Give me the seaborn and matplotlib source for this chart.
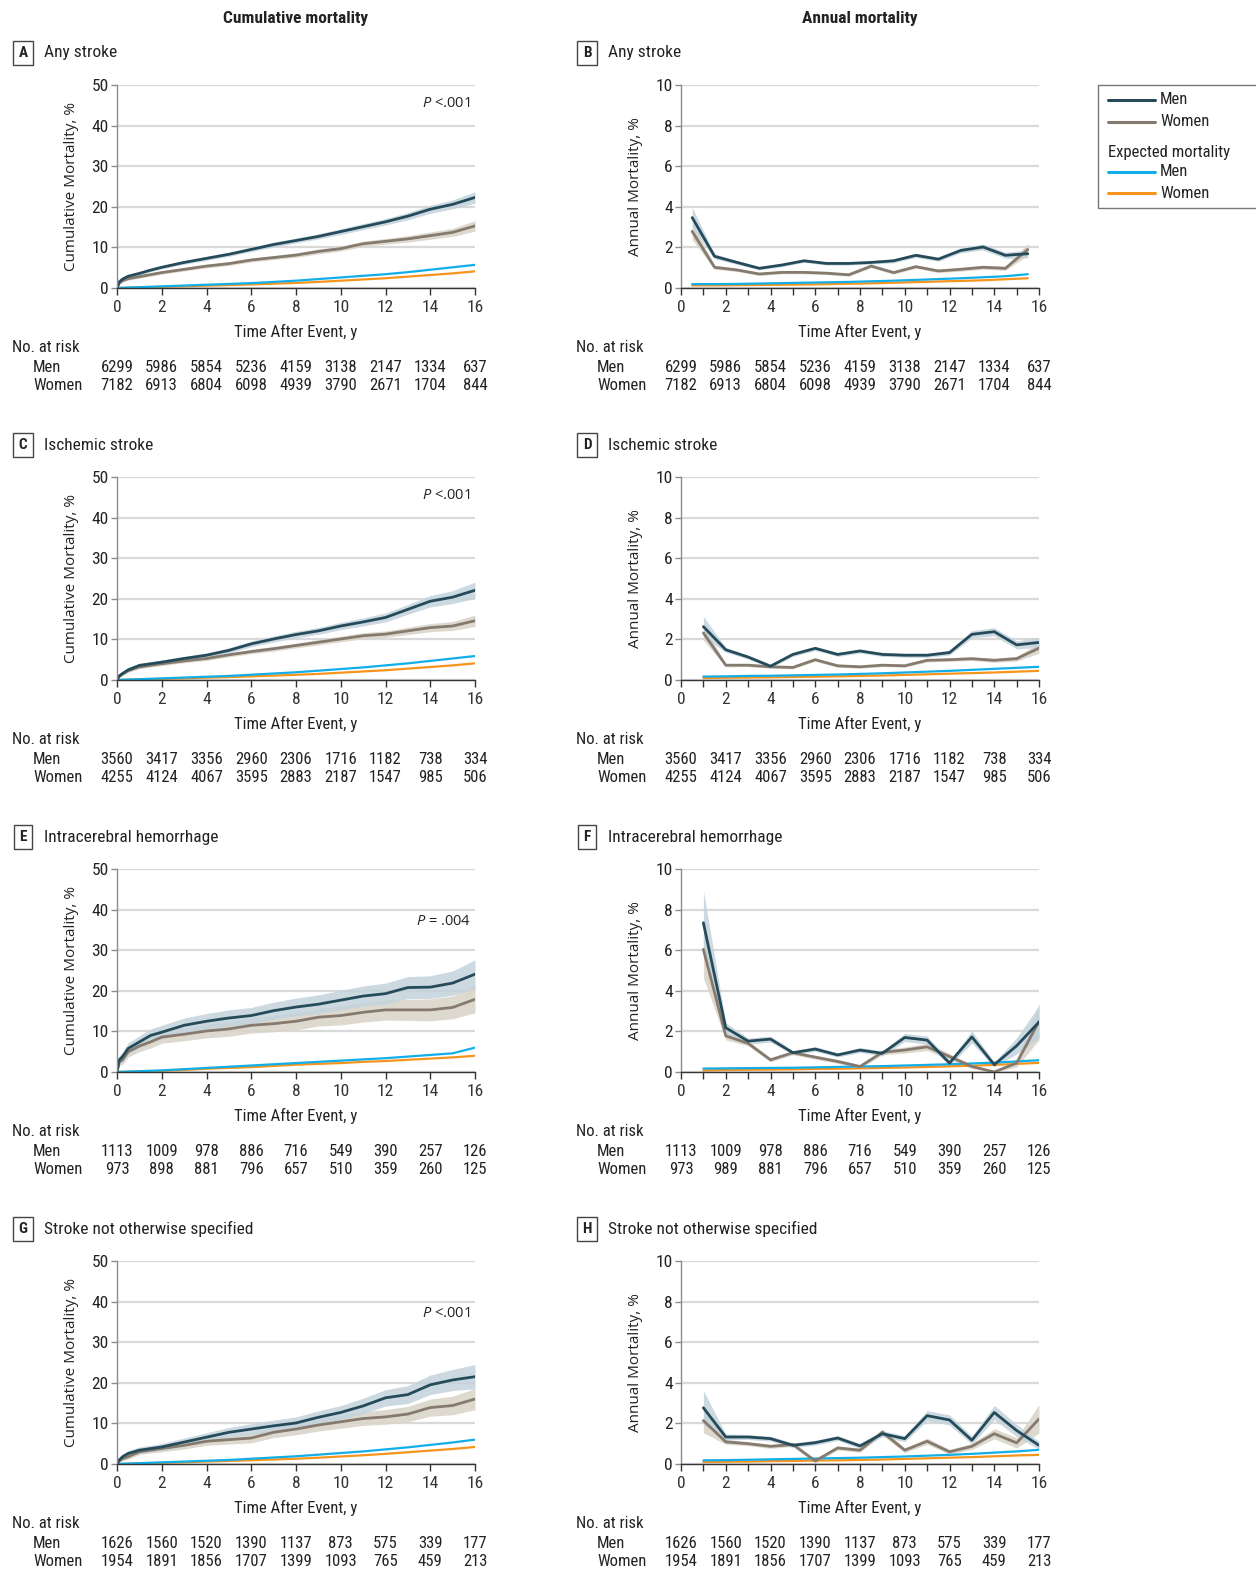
import numpy as np
import matplotlib
matplotlib.use('Agg')
import matplotlib.pyplot as plt
import matplotlib.transforms as mtransforms
from matplotlib import font_manager
from matplotlib.lines import Line2D
from matplotlib.patches import Rectangle
from matplotlib.ticker import MultipleLocator
import seaborn as sns

sns.set_theme(style='white')
installed = {f.name for f in font_manager.fontManager.ttflist}
main_font = next((f for f in ['Liberation Sans Narrow', 'Roboto Condensed', 'Open Sans Condensed',
                              'Liberation Sans'] if f in installed), 'DejaVu Sans')
plt.rcParams['font.family'] = [main_font, 'DejaVu Sans']
plt.rcParams['mathtext.fontset'] = 'custom'
plt.rcParams['mathtext.it'] = 'Open Sans:italic'
plt.rcParams['mathtext.rm'] = 'Open Sans'

# ---- data -------------------------------------------------------------
# cumulative mortality, % (time grid in years)
T_CUM = [0, 0.1, 0.25, 0.5, 1, 1.5, 2, 3, 4, 5, 6, 7, 8, 9, 10, 11, 12, 13, 14, 15, 16]

A_MEN = [0, 1.5, 2.2, 2.9, 3.6, 4.4, 5.1, 6.3, 7.3, 8.3, 9.5, 10.7, 11.7, 12.7, 13.9, 15.1, 16.3, 17.7, 19.4, 20.6, 22.3]
A_WOMEN = [0, 1.2, 1.8, 2.3, 2.8, 3.3, 3.8, 4.6, 5.4, 6.0, 6.9, 7.5, 8.1, 9.0, 9.7, 10.9, 11.5, 12.1, 12.9, 13.7, 15.3]
A_MEN_CI = [0, 0.3, 0.4, 0.4, 0.4, 0.4, 0.4, 0.45, 0.5, 0.5, 0.55, 0.6, 0.6, 0.65, 0.7, 0.75, 0.8, 0.9, 1.0, 1.1, 1.4]
A_WOMEN_CI = [0, 0.3, 0.35, 0.35, 0.4, 0.4, 0.4, 0.4, 0.45, 0.45, 0.5, 0.5, 0.55, 0.6, 0.6, 0.65, 0.7, 0.8, 0.9, 1.0, 1.3]
A_EXP_MEN = [0, 0.02, 0.05, 0.1, 0.2, 0.3, 0.4, 0.6, 0.8, 1.0, 1.2, 1.5, 1.8, 2.2, 2.6, 3.0, 3.4, 3.9, 4.5, 5.1, 5.7]
A_EXP_WOMEN = [0, 0.01, 0.03, 0.07, 0.14, 0.21, 0.28, 0.42, 0.57, 0.72, 0.88, 1.05, 1.25, 1.5, 1.8, 2.1, 2.4, 2.8, 3.2, 3.6, 4.1]

C_MEN = [0, 1.0, 1.6, 2.5, 3.6, 4.0, 4.4, 5.3, 6.1, 7.3, 8.9, 10.1, 11.2, 12.1, 13.3, 14.3, 15.4, 17.4, 19.4, 20.4, 22.1]
C_WOMEN = [0, 0.9, 1.5, 2.3, 3.2, 3.6, 4.0, 4.7, 5.3, 6.2, 7.0, 7.7, 8.5, 9.3, 10.1, 10.9, 11.3, 12.1, 12.9, 13.3, 14.6]
C_MEN_CI = [0, 0.3, 0.4, 0.5, 0.5, 0.5, 0.5, 0.55, 0.6, 0.65, 0.7, 0.75, 0.8, 0.85, 0.9, 1.0, 1.1, 1.2, 1.4, 1.6, 2.0]
C_WOMEN_CI = [0, 0.3, 0.35, 0.4, 0.4, 0.4, 0.45, 0.45, 0.5, 0.5, 0.55, 0.6, 0.6, 0.65, 0.7, 0.75, 0.8, 0.9, 1.0, 1.1, 1.4]
C_EXP_MEN = [0, 0.02, 0.05, 0.1, 0.2, 0.3, 0.4, 0.6, 0.8, 1.0, 1.3, 1.6, 1.9, 2.3, 2.7, 3.1, 3.6, 4.1, 4.7, 5.3, 5.9]
C_EXP_WOMEN = [0, 0.01, 0.03, 0.07, 0.14, 0.21, 0.28, 0.42, 0.57, 0.72, 0.9, 1.08, 1.28, 1.5, 1.8, 2.1, 2.4, 2.8, 3.2, 3.6, 4.1]

E_MEN = [0, 3.0, 3.8, 5.8, 7.4, 9.0, 9.8, 11.5, 12.5, 13.3, 13.9, 15.1, 16.0, 16.7, 17.7, 18.7, 19.3, 20.8, 20.9, 21.9, 24.1]
E_WOMEN = [0, 2.5, 3.0, 5.0, 6.4, 7.4, 8.6, 9.3, 10.1, 10.6, 11.5, 11.9, 12.5, 13.5, 13.9, 14.7, 15.3, 15.3, 15.3, 15.9, 17.9]
E_MEN_CI = [0, 1.0, 1.2, 1.4, 1.5, 1.6, 1.7, 1.8, 1.9, 2.0, 2.0, 2.1, 2.2, 2.3, 2.4, 2.5, 2.6, 2.7, 2.8, 3.0, 3.5]
E_WOMEN_CI = [0, 0.9, 1.1, 1.3, 1.4, 1.5, 1.5, 1.6, 1.7, 1.8, 1.9, 2.0, 2.1, 2.2, 2.3, 2.4, 2.5, 2.6, 2.7, 2.8, 3.3]
E_EXP_MEN = [0, 0.02, 0.05, 0.1, 0.2, 0.3, 0.4, 0.7, 1.0, 1.3, 1.6, 1.9, 2.2, 2.5, 2.8, 3.1, 3.4, 3.8, 4.2, 4.6, 6.0]
E_EXP_WOMEN = [0, 0.01, 0.03, 0.07, 0.14, 0.2, 0.28, 0.5, 0.8, 1.0, 1.2, 1.5, 1.8, 2.0, 2.2, 2.5, 2.7, 3.0, 3.3, 3.6, 4.0]

G_MEN = [0, 1.0, 1.8, 2.6, 3.4, 3.8, 4.2, 5.4, 6.6, 7.8, 8.6, 9.4, 10.1, 11.5, 12.7, 14.3, 16.3, 17.1, 19.5, 20.7, 21.5]
G_WOMEN = [0, 0.8, 1.3, 1.8, 3.0, 3.4, 3.8, 4.6, 5.6, 6.0, 6.4, 7.8, 8.6, 9.6, 10.4, 11.2, 11.6, 12.3, 13.9, 14.4, 16.0]
G_MEN_CI = [0, 0.5, 0.6, 0.7, 0.8, 0.8, 0.9, 1.0, 1.1, 1.2, 1.3, 1.4, 1.5, 1.6, 1.7, 1.9, 2.0, 2.2, 2.4, 2.6, 3.0]
G_WOMEN_CI = [0, 0.4, 0.5, 0.6, 0.7, 0.7, 0.8, 0.9, 1.0, 1.1, 1.2, 1.3, 1.4, 1.5, 1.6, 1.7, 1.8, 1.9, 2.1, 2.3, 2.6]
G_EXP_MEN = [0, 0.02, 0.05, 0.1, 0.2, 0.3, 0.4, 0.6, 0.8, 1.0, 1.3, 1.6, 1.9, 2.3, 2.7, 3.1, 3.6, 4.1, 4.7, 5.3, 6.0]
G_EXP_WOMEN = [0, 0.01, 0.03, 0.07, 0.14, 0.21, 0.28, 0.42, 0.6, 0.75, 0.92, 1.1, 1.3, 1.55, 1.85, 2.15, 2.5, 2.9, 3.3, 3.7, 4.2]

# annual mortality, %
T_ANN_B = [0.5, 1.5, 2.5, 3.5, 4.5, 5.5, 6.5, 7.5, 8.5, 9.5, 10.5, 11.5, 12.5, 13.5, 14.5, 15.5]
T_ANN = [1, 2, 3, 4, 5, 6, 7, 8, 9, 10, 11, 12, 13, 14, 15, 16]

B_MEN = [3.47, 1.56, 1.26, 0.97, 1.13, 1.34, 1.21, 1.21, 1.26, 1.34, 1.61, 1.42, 1.85, 2.02, 1.61, 1.69]
B_WOMEN = [2.79, 1.02, 0.89, 0.69, 0.77, 0.77, 0.73, 0.65, 1.08, 0.76, 1.05, 0.84, 0.92, 1.02, 0.97, 1.90]
B_MEN_CI = [0.5, 0.12, 0.1, 0.08, 0.08, 0.08, 0.08, 0.08, 0.08, 0.1, 0.1, 0.1, 0.12, 0.15, 0.15, 0.2]
B_WOMEN_CI = [0.4, 0.1, 0.08, 0.07, 0.07, 0.07, 0.07, 0.07, 0.08, 0.08, 0.08, 0.08, 0.09, 0.1, 0.1, 0.3]
B_EXP_MEN = [0.19, 0.19, 0.2, 0.22, 0.24, 0.26, 0.28, 0.3, 0.33, 0.36, 0.4, 0.44, 0.48, 0.53, 0.58, 0.68]
B_EXP_WOMEN = [0.13, 0.13, 0.14, 0.15, 0.16, 0.17, 0.19, 0.21, 0.23, 0.26, 0.29, 0.32, 0.35, 0.38, 0.43, 0.48]

D_MEN = [2.63, 1.49, 1.13, 0.68, 1.26, 1.56, 1.26, 1.43, 1.26, 1.22, 1.22, 1.35, 2.25, 2.38, 1.73, 1.85]
D_WOMEN = [2.32, 0.73, 0.73, 0.65, 0.62, 1.0, 0.70, 0.65, 0.73, 0.70, 0.97, 1.0, 1.05, 0.97, 1.05, 1.57]
D_MEN_CI = [0.5, 0.12, 0.1, 0.08, 0.1, 0.1, 0.1, 0.1, 0.1, 0.1, 0.1, 0.12, 0.18, 0.2, 0.2, 0.25]
D_WOMEN_CI = [0.35, 0.08, 0.07, 0.07, 0.07, 0.08, 0.07, 0.07, 0.07, 0.07, 0.08, 0.08, 0.09, 0.1, 0.12, 0.25]
D_EXP_MEN = [0.17, 0.18, 0.2, 0.21, 0.23, 0.25, 0.27, 0.3, 0.33, 0.37, 0.41, 0.45, 0.5, 0.55, 0.6, 0.65]
D_EXP_WOMEN = [0.1, 0.11, 0.12, 0.13, 0.15, 0.16, 0.18, 0.2, 0.22, 0.25, 0.28, 0.31, 0.34, 0.37, 0.41, 0.45]

F_MEN = [7.35, 2.18, 1.52, 1.62, 0.95, 1.13, 0.84, 1.08, 0.92, 1.70, 1.57, 0.44, 1.73, 0.36, 1.29, 2.46]
F_WOMEN = [6.04, 1.78, 1.41, 0.60, 0.95, 0.73, 0.52, 0.27, 0.97, 1.08, 1.24, 0.76, 0.27, 0.0, 0.44, 2.49]
F_MEN_CI = [1.6, 0.25, 0.15, 0.15, 0.1, 0.12, 0.1, 0.12, 0.12, 0.2, 0.2, 0.12, 0.3, 0.12, 0.4, 0.8]
F_WOMEN_CI = [1.4, 0.2, 0.12, 0.1, 0.1, 0.1, 0.1, 0.08, 0.12, 0.15, 0.18, 0.15, 0.1, 0.05, 0.2, 0.9]
F_EXP_MEN = [0.17, 0.18, 0.19, 0.2, 0.21, 0.23, 0.25, 0.27, 0.29, 0.32, 0.35, 0.38, 0.42, 0.46, 0.52, 0.58]
F_EXP_WOMEN = [0.08, 0.1, 0.11, 0.12, 0.13, 0.15, 0.16, 0.18, 0.2, 0.22, 0.25, 0.28, 0.31, 0.35, 0.4, 0.45]

H_MEN = [2.77, 1.33, 1.33, 1.25, 0.92, 1.05, 1.28, 0.89, 1.49, 1.25, 2.38, 2.17, 1.17, 2.54, 1.65, 0.92]
H_WOMEN = [2.14, 1.09, 1.0, 0.87, 0.96, 0.15, 0.79, 0.68, 1.57, 0.68, 1.12, 0.60, 0.87, 1.49, 1.04, 2.22]
H_MEN_CI = [0.85, 0.15, 0.12, 0.12, 0.12, 0.12, 0.12, 0.12, 0.15, 0.15, 0.25, 0.25, 0.2, 0.35, 0.3, 0.2]
H_WOMEN_CI = [0.6, 0.12, 0.1, 0.1, 0.1, 0.1, 0.1, 0.1, 0.15, 0.12, 0.15, 0.12, 0.15, 0.25, 0.25, 0.7]
H_EXP_MEN = [0.18, 0.19, 0.21, 0.23, 0.25, 0.27, 0.29, 0.31, 0.34, 0.37, 0.41, 0.45, 0.5, 0.56, 0.62, 0.7]
H_EXP_WOMEN = [0.1, 0.11, 0.12, 0.14, 0.15, 0.17, 0.18, 0.2, 0.22, 0.25, 0.28, 0.31, 0.34, 0.38, 0.42, 0.45]

# number at risk at 0, 2, ..., 16 y
RISK_TIMES = [0, 2, 4, 6, 8, 10, 12, 14, 16]
RISK_ANY_MEN = [6299, 5986, 5854, 5236, 4159, 3138, 2147, 1334, 637]
RISK_ANY_WOMEN = [7182, 6913, 6804, 6098, 4939, 3790, 2671, 1704, 844]
RISK_ISCH_MEN = [3560, 3417, 3356, 2960, 2306, 1716, 1182, 738, 334]
RISK_ISCH_WOMEN = [4255, 4124, 4067, 3595, 2883, 2187, 1547, 985, 506]
RISK_ICH_MEN = [1113, 1009, 978, 886, 716, 549, 390, 257, 126]
RISK_ICH_WOMEN_E = [973, 898, 881, 796, 657, 510, 359, 260, 125]
RISK_ICH_WOMEN_F = [973, 989, 881, 796, 657, 510, 359, 260, 125]
RISK_NOS_MEN = [1626, 1560, 1520, 1390, 1137, 873, 575, 339, 177]
RISK_NOS_WOMEN = [1954, 1891, 1856, 1707, 1399, 1093, 765, 459, 213]

P_VALUES = ['$\\it{P}$ <.001', '$\\it{P}$ <.001', '$\\it{P}$ = .004', '$\\it{P}$ <.001']
P_Y = [45.5, 45.5, 37, 37]
SUBTYPES = ['Any stroke', 'Ischemic stroke', 'Intracerebral hemorrhage', 'Stroke not otherwise specified']

MEN_C = '#254b5a'
WOMEN_C = '#857a6d'
MEN_BAND = '#c3d3dc'
WOMEN_BAND = '#dbd5ca'
EXP_MEN_C = '#12aee8'
EXP_WOMEN_C = '#f7941d'
TEXT_C = '#222222'

cum_panels = [
    ('A', A_MEN, A_WOMEN, A_MEN_CI, A_WOMEN_CI, A_EXP_MEN, A_EXP_WOMEN, RISK_ANY_MEN, RISK_ANY_WOMEN),
    ('C', C_MEN, C_WOMEN, C_MEN_CI, C_WOMEN_CI, C_EXP_MEN, C_EXP_WOMEN, RISK_ISCH_MEN, RISK_ISCH_WOMEN),
    ('E', E_MEN, E_WOMEN, E_MEN_CI, E_WOMEN_CI, E_EXP_MEN, E_EXP_WOMEN, RISK_ICH_MEN, RISK_ICH_WOMEN_E),
    ('G', G_MEN, G_WOMEN, G_MEN_CI, G_WOMEN_CI, G_EXP_MEN, G_EXP_WOMEN, RISK_NOS_MEN, RISK_NOS_WOMEN),
]
ann_panels = [
    ('B', T_ANN_B, B_MEN, B_WOMEN, B_MEN_CI, B_WOMEN_CI, B_EXP_MEN, B_EXP_WOMEN, RISK_ANY_MEN, RISK_ANY_WOMEN),
    ('D', T_ANN, D_MEN, D_WOMEN, D_MEN_CI, D_WOMEN_CI, D_EXP_MEN, D_EXP_WOMEN, RISK_ISCH_MEN, RISK_ISCH_WOMEN),
    ('F', T_ANN, F_MEN, F_WOMEN, F_MEN_CI, F_WOMEN_CI, F_EXP_MEN, F_EXP_WOMEN, RISK_ICH_MEN, RISK_ICH_WOMEN_F),
    ('H', T_ANN, H_MEN, H_WOMEN, H_MEN_CI, H_WOMEN_CI, H_EXP_MEN, H_EXP_WOMEN, RISK_NOS_MEN, RISK_NOS_WOMEN),
]

# ---- layout (pixels) ----------------------------------------------------
W, H = 1256, 1587
ROW = 392
fig = plt.figure(figsize=(W / 100, H / 100), dpi=100)


def fx(px):
    return px / W


def fy(py):
    return 1 - py / H


def style_axes(ax, ymax, ystep, ylabel, minor):
    ax.set_xlim(0, 16)
    ax.set_ylim(0, ymax)
    ax.set_xticks(range(0, 17, 2))
    ax.set_yticks(np.arange(0, ymax + 0.1, ystep))
    if minor:
        ax.xaxis.set_minor_locator(MultipleLocator(1))
    ax.grid(axis='y', color='#d9d9d9', lw=1.6)
    ax.set_axisbelow(True)
    for s in ['top', 'right']:
        ax.spines[s].set_visible(False)
    ax.spines['left'].set_color('#8c8c8c')
    ax.spines['bottom'].set_color('#333333')
    ax.spines['left'].set_linewidth(1.0)
    ax.spines['bottom'].set_linewidth(1.0)
    ax.tick_params(axis='x', which='both', direction='out', length=5, width=1, colors='#333333',
                   labelsize=12.5, pad=4, bottom=True)
    ax.tick_params(axis='y', direction='out', length=4, width=1, colors='#8c8c8c',
                   labelcolor=TEXT_C, labelsize=12.5, pad=2, left=True)
    ax.set_xlabel('Time After Event, y', fontsize=12, color=TEXT_C)
    ax.xaxis.set_label_coords(0.5, -36 / 203)
    ax.set_ylabel(ylabel, fontsize=11, color=TEXT_C, family=['Open Sans', 'DejaVu Sans'])
    ax.yaxis.set_label_coords(-38 / 358, 0.5)


def draw_series(ax, x, men, women, men_ci, women_ci, exp_men, exp_women):
    men, women = np.array(men), np.array(women)
    men_ci, women_ci = np.array(men_ci), np.array(women_ci)
    ax.fill_between(x, np.clip(women - women_ci, 0, None), women + women_ci, color=WOMEN_BAND, lw=0, alpha=0.9)
    ax.fill_between(x, np.clip(men - men_ci, 0, None), men + men_ci, color=MEN_BAND, lw=0, alpha=0.85)
    sns.lineplot(x=x, y=exp_women, ax=ax, color=EXP_WOMEN_C, lw=1.6, errorbar=None)
    sns.lineplot(x=x, y=exp_men, ax=ax, color=EXP_MEN_C, lw=1.6, errorbar=None)
    sns.lineplot(x=x, y=women, ax=ax, color=WOMEN_C, lw=2.0, errorbar=None)
    sns.lineplot(x=x, y=men, ax=ax, color=MEN_C, lw=2.0, errorbar=None)


def risk_table(ax, left_px, top_px, men_risk, women_risk):
    fig.text(fx(left_px), fy(top_px), 'No. at risk', fontsize=12, color=TEXT_C, va='center')
    fig.text(fx(left_px + 21), fy(top_px + 19), 'Men', fontsize=12, color=TEXT_C, va='center')
    fig.text(fx(left_px + 21), fy(top_px + 37), 'Women', fontsize=12, color=TEXT_C, va='center')
    trans = mtransforms.blended_transform_factory(ax.transData, fig.transFigure)
    for t, m, w in zip(RISK_TIMES, men_risk, women_risk):
        ax.text(t, fy(top_px + 19), str(m), transform=trans, ha='center', va='center',
                fontsize=12, color=TEXT_C)
        ax.text(t, fy(top_px + 37), str(w), transform=trans, ha='center', va='center',
                fontsize=12, color=TEXT_C)


def panel_label(x_px, y_px, letter, title):
    fig.text(fx(x_px), fy(y_px), letter, fontsize=11, weight='bold', color=TEXT_C,
             ha='center', va='center',
             bbox=dict(boxstyle='square,pad=0.35', fc='white', ec='#444444', lw=1))
    fig.text(fx(x_px + 21), fy(y_px), title, fontsize=12.5, color=TEXT_C, va='center')


fig.text(fx(296), fy(18), 'Cumulative mortality', fontsize=12.5, weight='bold', color=TEXT_C,
         ha='center', va='center')
fig.text(fx(860), fy(18), 'Annual mortality', fontsize=12.5, weight='bold', color=TEXT_C,
         ha='center', va='center')

for i, (letter, men, women, mci, wci, em, ew, rm, rw) in enumerate(cum_panels):
    top = 85 + ROW * i
    ax = fig.add_axes([fx(117), fy(top + 203), fx(358), 203 / H])
    draw_series(ax, T_CUM, men, women, mci, wci, em, ew)
    style_axes(ax, 50, 10, 'Cumulative Mortality, %', minor=False)
    ax.text(15.8, P_Y[i], P_VALUES[i], ha='right', va='center', fontsize=10.5, color=TEXT_C,
            family=['Open Sans', 'DejaVu Sans'])
    panel_label(23, top - 32, letter, SUBTYPES[i])
    risk_table(ax, 12, top + 263, rm, rw)

for i, (letter, x, men, women, mci, wci, em, ew, rm, rw) in enumerate(ann_panels):
    top = 85 + ROW * i
    ax = fig.add_axes([fx(681), fy(top + 203), fx(358), 203 / H])
    draw_series(ax, x, men, women, mci, wci, em, ew)
    style_axes(ax, 10, 2, 'Annual Mortality, %', minor=True)
    panel_label(587, top - 32, letter, SUBTYPES[i])
    risk_table(ax, 576, top + 263, rm, rw)

# ---- legend -------------------------------------------------------------
fig.add_artist(Rectangle((fx(1098), fy(208)), fx(170), 123 / H, transform=fig.transFigure,
                         fc='white', ec='#777777', lw=1, clip_on=False))
legend_items = [(100, MEN_C, 'Men'), (122, WOMEN_C, 'Women'),
                (172, EXP_MEN_C, 'Men'), (193, EXP_WOMEN_C, 'Women')]
for y_px, col, lab in legend_items:
    fig.add_artist(Line2D([fx(1108), fx(1155)], [fy(y_px), fy(y_px)], transform=fig.transFigure,
                          color=col, lw=2.2))
    fig.text(fx(1160), fy(y_px), lab, fontsize=12, color=TEXT_C, va='center')
fig.text(fx(1108), fy(153), 'Expected mortality', fontsize=12, color=TEXT_C, va='center')

fig.savefig('out.png', dpi=100)
